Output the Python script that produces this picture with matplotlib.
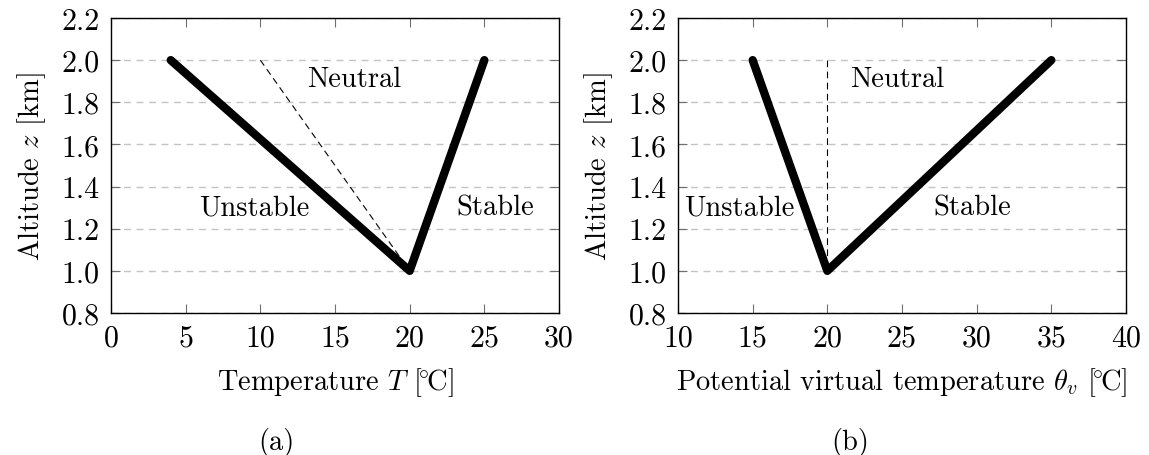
import matplotlib
matplotlib.use("Agg")
import matplotlib.pyplot as plt

plt.rcParams["font.family"] = ["cmr10", "DejaVu Serif"]
plt.rcParams["mathtext.fontset"] = "cm"
plt.rcParams["axes.formatter.use_mathtext"] = True
plt.rcParams["axes.unicode_minus"] = False

# Panel (a): temperature profiles
temp_x = [4, 20, 25]
temp_z = [2.0, 1.0, 2.0]
temp_neutral_x = [10, 20]
temp_neutral_z = [2.0, 1.0]

# Panel (b): potential virtual temperature profiles
theta_x = [15, 20, 35]
theta_z = [2.0, 1.0, 2.0]
theta_neutral_x = [20, 20]
theta_neutral_z = [2.0, 1.0]

# Region labels: (text, x, z)
labels_a = [("Neutral", 16.3, 1.91), ("Unstable", 9.6, 1.30), ("Stable", 25.7, 1.30)]
labels_b = [("Neutral", 24.7, 1.91), ("Unstable", 14.1, 1.30), ("Stable", 29.7, 1.30)]

z_ticks = [0.8, 1.0, 1.2, 1.4, 1.6, 1.8, 2.0, 2.2]
z_tick_labels = ["0.8", "1.0", "1.2", "1.4", "1.6", "1.8", "2.0", "2.2"]
xticks_a = [0, 5, 10, 15, 20, 25, 30]
xticks_b = [10, 15, 20, 25, 30, 35, 40]

TICK_FS = 21.5
LABEL_FS = 20.5

fig = plt.figure(figsize=(11.49, 4.56), dpi=100)
ax_a = fig.add_axes([111 / 1149, 1 - 314 / 456, 448 / 1149, 295 / 456])
ax_b = fig.add_axes([678 / 1149, 1 - 314 / 456, 448 / 1149, 295 / 456])


def style(ax, xticks, xlabel):
    ax.set_xlim(xticks[0], xticks[-1])
    ax.set_ylim(0.8, 2.2)
    ax.set_xticks(xticks)
    ax.set_xticklabels([str(t) for t in xticks])
    ax.set_yticks(z_ticks)
    ax.set_yticklabels(z_tick_labels)
    ax.tick_params(direction="in", length=6.5, width=0.8, color="#707070",
                   top=True, right=True, labelsize=TICK_FS)
    ax.tick_params(axis="y", pad=8)
    ax.tick_params(axis="x", pad=8)
    ax.grid(axis="y", color="#c4c4c4", linestyle=(0, (5, 4)), linewidth=1.0)
    ax.set_axisbelow(True)
    for sp in ax.spines.values():
        sp.set_linewidth(1.0)
        sp.set_color("black")
    ax.set_xlabel(xlabel, fontsize=LABEL_FS, labelpad=10)
    ax.set_ylabel(r"Altitude $z$ [km]", fontsize=LABEL_FS, labelpad=10)


ax_a.plot(temp_x, temp_z, color="black", linewidth=6, solid_capstyle="round",
          solid_joinstyle="round", zorder=3)
ax_a.plot(temp_neutral_x, temp_neutral_z, color="black", linewidth=0.8,
          linestyle=(0, (6, 4)), zorder=2)
for txt, x, z in labels_a:
    ax_a.text(x, z, txt, ha="center", va="center", fontsize=LABEL_FS)
style(ax_a, xticks_a, r"Temperature $T$ [$\!^{\circ}\!$C]")

ax_b.plot(theta_x, theta_z, color="black", linewidth=6, solid_capstyle="round",
          solid_joinstyle="round", zorder=3)
ax_b.plot(theta_neutral_x, theta_neutral_z, color="black", linewidth=0.8,
          linestyle=(0, (6, 4)), zorder=2)
for txt, x, z in labels_b:
    ax_b.text(x, z, txt, ha="center", va="center", fontsize=LABEL_FS)
style(ax_b, xticks_b, r"Potential virtual temperature $\theta_v$ [$\!^{\circ}\!$C]")

fig.text(276 / 1149, 1 - 443 / 456, "(a)", ha="center", va="center", fontsize=LABEL_FS)
fig.text(850 / 1149, 1 - 443 / 456, "(b)", ha="center", va="center", fontsize=LABEL_FS)

fig.savefig("out.png", dpi=100)
